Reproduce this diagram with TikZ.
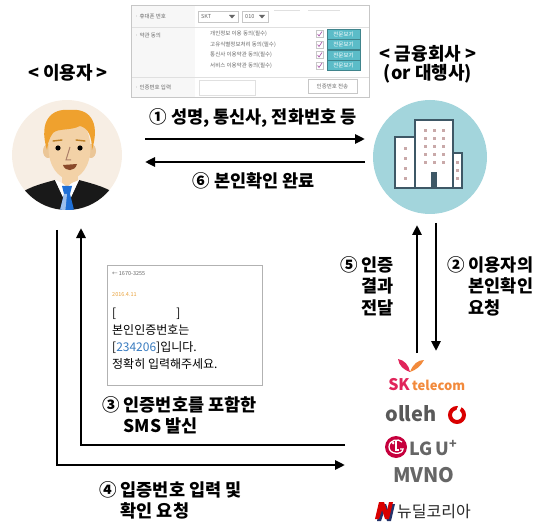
\documentclass[tikz,border=0pt]{standalone}
\usepackage{fontspec}
\setmainfont{Noto Sans CJK KR}
\usetikzlibrary{arrows.meta, positioning}

\definecolor{crema}{HTML}{F7EEE4}
\definecolor{piel}{HTML}{F3D2A7}
\definecolor{pelo}{HTML}{EFA12E}
\definecolor{boca}{HTML}{8A4A2A}
\definecolor{corbata}{HTML}{1E6FD6}
\definecolor{celeste}{HTML}{A3D5DC}
\definecolor{edificio}{HTML}{3E5866}
\definecolor{ventanas}{HTML}{C9A9A9}
\definecolor{turquesa}{HTML}{5BBCC8}
\definecolor{gris}{HTML}{666666}
\definecolor{naranja}{HTML}{E9A23B}
\definecolor{skrojo}{HTML}{E0245A}
\definecolor{sknaranja}{HTML}{F28A3C}
\definecolor{lgrojo}{HTML}{C6003D}
\definecolor{nazul}{HTML}{23336B}
\definecolor{smsazul}{HTML}{3A7CC0}

\begin{document}
\begin{tikzpicture}[x=1pt, y=-1pt,
    flecha/.style={line width=2.6pt, -{Triangle[length=10pt, width=9pt]}},
    rotulo/.style={font=\bfseries\fontsize{17.5}{21.5}\selectfont, align=left, inner sep=0pt},
    titulo/.style={font=\bfseries\fontsize{18}{19}\selectfont, align=center, inner sep=0pt},
    minitexto/.style={font=\fontsize{5.5}{6}\selectfont, text=gris, inner sep=0pt},
    bordeform/.style={draw=black!22, line width=.5pt},
    lineaform/.style={draw=black!12, line width=.5pt},
    boton/.style={fill=turquesa, draw=turquesa!70!black, line width=.4pt},
    ventana/.style={fill=ventanas}]
\useasboundingbox (0,0) rectangle (544,524);

% formulario
\fill[white] (131,5) rectangle (369,97);
\fill[black!3] (131,5) rectangle (195,97);
\draw[lineaform] (131,27) -- (369,27);
\draw[lineaform] (131,77) -- (369,77);
\draw[bordeform] (131,5) rectangle (369,97);
\node[minitexto, anchor=west] (movil) at (135,16) {· 휴대폰 번호};
\node[minitexto, anchor=west] (acuerdo) at (135,35) {· 약관 동의};
\node[minitexto, anchor=west] (codigo) at (135,87) {· 인증번호 입력};
\draw[bordeform, fill=white] (198,11) rectangle (238,22); % operador
\node[minitexto, anchor=west] (skt) at (201,16.5) {SKT};
\fill[gris] (229,15) -- (235,15) -- (232,18.5) -- cycle;
\draw[bordeform, fill=white] (242,11) rectangle (268,22); % prefijo
\node[minitexto, anchor=west] (prefijo) at (245,16.5) {010};
\fill[gris] (259,15) -- (265,15) -- (262,18.5) -- cycle;
\draw[lineaform] (274,10) -- (300,10);
\draw[lineaform] (308,10) -- (340,10);
\foreach \y/\t [count=\i] in {34/개인정보 이용 동의(필수), 44.5/고유식별정보처리 동의(필수), 55/통신사 이용약관 동의(필수), 65.5/서비스 이용약관 동의(필수)} {
  \node[minitexto, anchor=west] (termino\i) at (210,\y) {\t};
  \draw[bordeform, fill=white] (316,\y-3.5) rectangle (323,\y+3.5); % casilla
  \draw[violet!70, line width=.6pt] (317.5,\y) -- (319,\y+2) -- (322,\y-2.5);
  \draw[boton] (327,\y-5) rectangle (360,\y+5);
  \node[minitexto, text=white] (ver\i) at (343.5,\y) {전문보기};
}
\draw[lineaform] (199,80) rectangle (255,95);
\draw[bordeform, fill=white] (308,79) rectangle (357,93);
\node[minitexto] (envio) at (332.5,86) {인증번호 전송};

% titulos
\node[titulo] (tusuario) at (68,73) {< 이용자 >};
\node[titulo] (tempresa) at (428,64) {< 금융회사 >\\(or 대행사)};

% usuario
\node[circle, fill=crema, minimum size=110pt, inner sep=0pt] (usuario) at (67,155) {};
\begin{scope}
  \clip (67,155) circle[radius=55pt];
  \fill[piel] (62,168) rectangle (78,192); % cuello
  \fill[black!90] (10,215) -- (14,198) .. controls (25,188) and (40,184) .. (55,180) -- (67,205) -- (79,180) .. controls (94,184) and (110,188) .. (121,198) -- (124,215) -- cycle; % traje
  \fill[white] (55,180) -- (67,206) -- (79,180) -- (72,183) -- (67,187) -- (62,183) -- cycle; % camisa
  \fill[corbata] (62,186) -- (72,186) -- (70,194) -- (64,194) -- cycle;
  \fill[corbata] (64,194) -- (70,194) -- (75,214) -- (59,214) -- cycle;
  \fill[corbata!45] (64,194) -- (67,194) -- (65,214) -- (59,214) -- cycle;
\end{scope}
\fill[piel!85!brown] (48,151) ellipse[x radius=5pt, y radius=7pt]; % orejas
\fill[piel!85!brown] (91,151) ellipse[x radius=5pt, y radius=7pt];
\fill[piel] (69.5,148) ellipse[x radius=21pt, y radius=31pt]; % cara
\fill[pelo] (47,150) .. controls (38,120) and (52,108) .. (70,110) .. controls (88,108) and (101,120) .. (92,150) .. controls (92,136) and (88,128) .. (80,126) .. controls (70,131) and (58,128) .. (53,133) .. controls (49,138) and (48,144) .. cycle; % pelo
\draw[pelo!80!black, line width=1.4pt, line cap=round] (53,141) -- (62,140);
\draw[pelo!80!black, line width=1.4pt, line cap=round] (76,140) -- (85,141);
\fill[black] (58,148) circle[radius=2.6pt];
\fill[black] (80,148) circle[radius=2.6pt];
\draw[boca!70, line width=1pt] (70,147) -- (66,160) -- (71,160); % nariz
\fill[boca] (63,165) .. controls (65,172) and (75,172) .. (77,164) -- cycle; % boca

% empresa
\node[circle, fill=celeste, minimum size=114pt, inner sep=0pt] (empresa) at (430,157) {};
\begin{scope}[draw=edificio, line width=2.2pt, fill=white]
  \filldraw (395,137) rectangle (415,188);
  \filldraw (415,120) rectangle (453,188);
  \filldraw (453,153) rectangle (462,188);
\end{scope}
\fill[edificio] (431,172) rectangle (437,188); % puerta
\foreach \y in {147,157,167,177} \fill[ventana] (403.5,\y) rectangle ++(3,3);
\foreach \x in {423.5,432.5,441.5} \foreach \y in {129,137,145,153,161} \fill[ventana] (\x,\y) rectangle ++(3,3);
\foreach \y in {161,169,177} \fill[ventana] (456,\y) rectangle ++(2.5,3);

% flechas 1 y 6
\coordinate (f1i) at (145,139);
\coordinate (f1d) at (365,139);
\coordinate (f6i) at (145,162);
\coordinate (f6d) at (365,162);
\draw[flecha] (f1i) -- (f1d);
\draw[flecha] (f6d) -- (f6i);
\node[rotulo] (paso1) at (253,118) {① 성명, 통신사, 전화번호 등};
\node[rotulo] (paso6) at (254,181) {⑥ 본인확인 완료};

% flechas 2 y 5
\coordinate (f2a) at (436,223);
\coordinate (f2b) at (436,351);
\coordinate (f5a) at (417,353);
\coordinate (f5b) at (417,225);
\draw[flecha] (f2a) -- (f2b);
\draw[flecha] (f5a) -- (f5b);
\node[rotulo, anchor=north west] (paso5) at (340,256) {⑤ 인증\\\phantom{⑤} 결과\\\phantom{⑤} 전달};
\node[rotulo, anchor=north west] (paso2) at (447,256) {② 이용자의\\\phantom{②} 본인확인\\\phantom{②} 요청};

% mensaje SMS
\draw[black!30, line width=.6pt, fill=white] (107,265) rectangle (262,385);
\node[minitexto, anchor=west] (remite) at (112,274) {← 1670-3255};
\node[minitexto, anchor=west, text=naranja] (fecha) at (112,295) {2016.4.11};
\node[font=\fontsize{12}{17}\selectfont, align=left, anchor=north west, inner sep=0pt] (sms) at (112,308)
  {{[}\hspace{5em}{]}\\본인인증번호는\\{[}{\color{smsazul}234206}{]}입니다.\\정확히 입력해주세요.};

% flechas 3 y 4
\coordinate (f3a) at (345,445);
\coordinate (f3b) at (81,445);
\coordinate (f3c) at (81,228);
\coordinate (f4a) at (57,230);
\coordinate (f4b) at (57,465);
\coordinate (f4c) at (345,465);
\draw[flecha] (f3a) -- (f3b) -- (f3c);
\draw[flecha] (f4a) -- (f4b) -- (f4c);
\node[rotulo, anchor=north west] (paso3) at (102,396) {③ 인증번호를 포함한\\\phantom{③} SMS 발신};
\node[rotulo, anchor=north west] (paso4) at (99,481) {④ 입증번호 입력 및\\\phantom{④} 확인 요청};

% operadores
\fill[skrojo] (410,372) .. controls (404,370) and (399,366) .. (398,359) .. controls (404,360) and (409,365) .. cycle; % mariposa
\fill[sknaranja] (410,372) .. controls (413,364) and (418,360) .. (424,360) .. controls (421,366) and (416,370) .. cycle;
\node[font=\bfseries\fontsize{16}{16}\selectfont, text=skrojo, inner sep=0pt, anchor=east] (sk) at (410,385) {SK};
\node[font=\bfseries\fontsize{13}{13}\selectfont, text=sknaranja, inner sep=0pt, right=2pt of sk.east, anchor=west] (telecom) {telecom};
\node[font=\bfseries\fontsize{20}{20}\selectfont, text=black!65, inner sep=0pt] (olleh) at (411,414) {olleh};
\draw[red!85!black, line width=4pt] (457,415) circle[radius=7pt]; % logo kt
\fill[white] (459,404) -- (463,404) -- (457,416) -- (454,416) -- cycle;
\node[circle, fill=lgrojo, minimum size=22pt, inner sep=0pt] (lg) at (396,447) {};
\draw[white, line width=1.3pt] (400,449) -- (403,449) .. controls (403,455) and (389,455) .. (389,447) .. controls (389,440) and (398,438) .. (402,442);
\fill[white] (393,443) circle[radius=1.5pt];
\draw[white, line width=1.3pt] (396,441) -- (396,450) -- (399,450);
\node[font=\bfseries\fontsize{18}{18}\selectfont, text=black!60, inner sep=0pt, anchor=west] (lgu) at (409,448) {LG\,U\textsuperscript{+}};
\node[font=\bfseries\fontsize{20}{20}\selectfont, text=black!60, inner sep=0pt] (mvno) at (424,475) {MVNO};
\fill[nazul] (377,521) -- (381,504) -- (386,504) -- (389,513) -- (391,504) -- (395,504) -- (391,521) -- (387,521) -- (384,512) -- (381,521) -- cycle;
\fill[red!85!black] (375,519) -- (379,502) -- (384,502) -- (387,511) -- (389,502) -- (393,502) -- (389,519) -- (385,519) -- (382,510) -- (379,519) -- cycle; % logo N
\node[font=\fontsize{16}{16}\selectfont, text=black!85, inner sep=0pt, anchor=west] (newdeal) at (397,512) {뉴딜코리아};
\end{tikzpicture}
\end{document}
